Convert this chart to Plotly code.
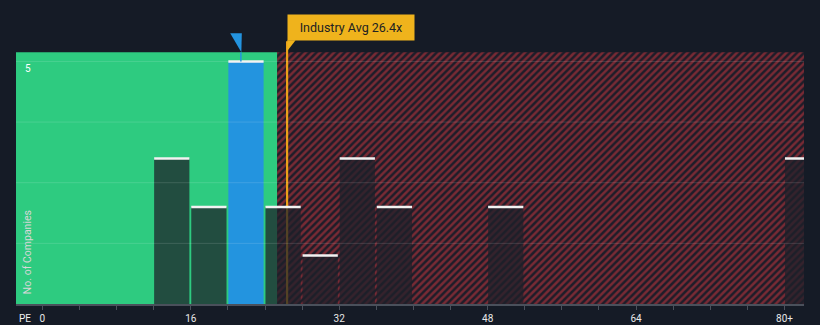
import plotly.graph_objects as go

# ---- data ----
bin_starts = [12, 16, 20, 24, 28, 32, 36, 48, 80]
counts = [3, 2, 5, 2, 1, 3, 2, 2, 3]
bin_width = 4
company_pe = 21.4
industry_avg = 26.4
green_limit = 25.3
tick_vals = [0, 16, 32, 48, 64, 80]
tick_text = ["0", "16", "32", "48", "64", "80+"]
y_label_val = 5

# ---- layout constants ----
X0, X1 = -2.84, 82.1
YBG = 5.19
YTOP = 6.06
BG = "#151B26"
GREEN = "#2ECB80"
BLUE = "#2394DF"
GOLD = "#EFB31C"
PX_PER_Y = 48.55

fig = go.Figure()

# hatched red region (background)
fig.add_bar(x=[(green_limit + 100) / 2], y=[YBG], width=[100 - green_limit],
            marker=dict(color="#1E1D29", line=dict(width=0),
                        pattern=dict(shape="/", fgcolor="#782A34", bgcolor="#1E1D29",
                                     size=5, solidity=0.5, fillmode="replace")),
            hoverinfo="skip", showlegend=False)
# green region (background)
fig.add_bar(x=[(green_limit - 20) / 2], y=[YBG], width=[green_limit + 20],
            marker=dict(color=GREEN, line=dict(width=0)),
            hoverinfo="skip", showlegend=False)
# industry average line (as thin bar, so it sits under the count bars)
lab_bot = (304 - 41) / PX_PER_Y
fig.add_bar(x=[industry_avg], y=[lab_bot], width=[0.2],
            marker=dict(color="#E9A11A", line=dict(width=0)),
            hoverinfo="skip", showlegend=False)

# count bars
centers = [b + 1.95 for b in bin_starts]
colors = []
for b in bin_starts:
    if b <= company_pe < b + bin_width:
        colors.append(BLUE)
    else:
        colors.append("rgba(30,32,42,0.74)")
fig.add_bar(x=centers, y=counts, width=[3.8] * len(counts),
            marker=dict(color=colors, line=dict(width=0)),
            hoverinfo="skip", showlegend=False)
# white caps
fig.add_bar(x=centers, y=[0.05] * len(counts), base=[c - 0.025 for c in counts],
            width=[3.8] * len(counts),
            marker=dict(color="#F2F2F2", line=dict(width=0)),
            hoverinfo="skip", showlegend=False)

shapes = []
# gridlines
for k in range(1, 5):
    shapes.append(dict(type="line", xref="x", yref="y", x0=X0, x1=X1,
                       y0=1.25 * k, y1=1.25 * k,
                       line=dict(color="rgba(255,255,255,0.13)", width=1), layer="above"))
# company marker
shapes.append(dict(type="line", xref="x", yref="y", x0=company_pe, x1=company_pe,
                   y0=YBG, y1=max(counts), line=dict(color=BLUE, width=1.5), layer="above"))
tri_top = (304 - 33) / PX_PER_Y
shapes.append(dict(type="path", xref="x", yref="y",
                   path=f"M {company_pe - 1.15},{tri_top} L {company_pe + 0.1},{tri_top} "
                        f"L {company_pe + 0.05},{YBG} Z",
                   fillcolor=BLUE, line=dict(width=0), layer="above"))
# industry label tail
shapes.append(dict(type="path", xref="x", yref="y",
                   path=f"M {industry_avg},{lab_bot + 0.02} L {industry_avg},{lab_bot - 0.2} "
                        f"L {industry_avg + 0.9},{lab_bot + 0.02} Z",
                   fillcolor=GOLD, line=dict(width=0), layer="above"))

annotations = [
    dict(x=industry_avg, y=lab_bot, xref="x", yref="y", xanchor="left", yanchor="bottom",
         text=f"Industry Avg {industry_avg}x", showarrow=False, bgcolor=GOLD,
         borderpad=5, width=116, height=15, align="center",
         font=dict(family="Roboto", size=12.5, color="#222222")),
    dict(x=-1.54, y=y_label_val - 0.14, xref="x", yref="y", text=str(y_label_val),
         showarrow=False, font=dict(family="Roboto", size=10, color="#FFFFFF")),
    dict(x=-1.65, y=1.07, xref="x", yref="y", text="No. of Companies", textangle=-90,
         showarrow=False, font=dict(family="Roboto", size=10.5, color="#D8D8D8")),
    dict(x=(25 - 16) / 787.7, y=-14 / 294, xref="paper", yref="paper", text="PE",
         showarrow=False, xanchor="center", yanchor="middle",
         font=dict(family="Roboto", size=10, color="#F0F0F0")),
]

fig.update_layout(
    width=820, height=325,
    margin=dict(l=16, r=16, t=10, b=21, autoexpand=False),
    paper_bgcolor=BG, plot_bgcolor=BG,
    barmode="overlay",
    showlegend=False,
    shapes=shapes,
    annotations=annotations,
    xaxis=dict(range=[X0, X1], showgrid=False, zeroline=False, automargin=False,
               showline=True, linecolor="#4A505B", linewidth=1.5,
               ticks="outside", ticklen=4, tickcolor="#4A505B", tickwidth=1,
               tickvals=tick_vals, ticktext=tick_text,
               minor=dict(dtick=4, tick0=0, ticks="outside", ticklen=4,
                          tickcolor="#4A505B", showgrid=False),
               tickfont=dict(family="Roboto", size=10, color="#E8E8E8")),
    yaxis=dict(range=[0, YTOP], visible=False, fixedrange=True, automargin=False),
)

fig.write_html("out.html")
